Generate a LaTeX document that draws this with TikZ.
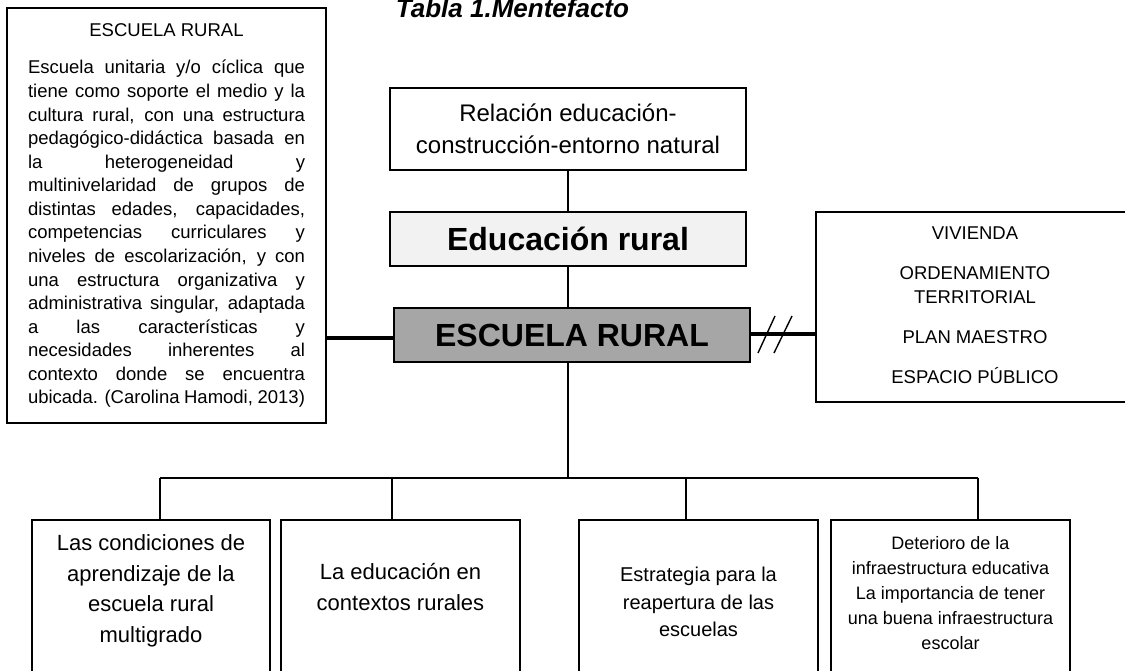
\documentclass[tikz,border=0pt]{standalone}
\usepackage{fontspec}
\setmainfont{Liberation Sans}
\definecolor{edufill}{HTML}{F2F2F2}
\definecolor{escfill}{HTML}{A6A6A6}
\newcommand{\jline}[1]{\makebox[277pt][s]{#1}}
\begin{document}
\begin{tikzpicture}[x=1pt,y=-1pt,
  box/.style={draw, line width=1.5pt, inner sep=0pt},
  conn/.style={line width=1.4pt},
  thickconn/.style={line width=4pt},
  txt/.style={inner sep=0pt, align=center}]
\useasboundingbox (0,0) rectangle (1125,670);
\clip (0,0) rectangle (1125,670);

% title
\node[anchor=base, inner sep=0pt, font=\fontsize{26}{30}\selectfont\bfseries\itshape] (title) at (512.5,17) {Tabla 1.Mentefacto};

% left definition box
\node[box, minimum width=319pt, minimum height=415pt] (lbox) at (166.5,215.5) {};
\node[txt, font=\fontsize{18.5}{22}\selectfont] (lhead) at (166.5,30) {ESCUELA RURAL};
\node[inner sep=0pt, align=left, font=\fontsize{18.5}{23.57}\selectfont] (lbody) at (166.5,234) {%
\jline{Escuela unitaria y/o cíclica que}\\
\jline{tiene como soporte el medio y la}\\
\jline{cultura rural, con una estructura}\\
\jline{pedagógico-didáctica basada en}\\
\jline{la heterogeneidad y}\\
\jline{multinivelaridad de grupos de}\\
\jline{distintas edades, capacidades,}\\
\jline{competencias curriculares y}\\
\jline{niveles de escolarización, y con}\\
\jline{una estructura organizativa y}\\
\jline{administrativa singular, adaptada}\\
\jline{a las características y}\\
\jline{necesidades inherentes al}\\
\jline{contexto donde se encuentra}\\
\jline{ubicada. (Carolina Hamodi, 2013)}};

% central column
\node[box, minimum width=356pt, minimum height=82pt, align=center, font=\fontsize{24}{32}\selectfont] (rel) at (568,129)
  {Relación educación-\\construcción-entorno natural};
\node[box, fill=edufill, minimum width=356pt, minimum height=54pt, font=\fontsize{32}{36}\selectfont\bfseries] (edu) at (568,239)
  {Educación rural};
\node[box, fill=escfill, minimum width=356pt, minimum height=54pt, font=\fontsize{32}{36}\selectfont\bfseries] (esc) at (572,335)
  {ESCUELA RURAL};

% right box
\node[box, minimum width=324pt, minimum height=190pt] (rbox) at (978,307) {};
\node[txt, font=\fontsize{18.5}{24}\selectfont] (r1) at (975,233) {VIVIENDA};
\node[txt, font=\fontsize{18.5}{24}\selectfont] (r2) at (975,285) {ORDENAMIENTO\\TERRITORIAL};
\node[txt, font=\fontsize{18.5}{24}\selectfont] (r3) at (975,337) {PLAN MAESTRO};
\node[txt, font=\fontsize{18.5}{24}\selectfont] (r4) at (975,376) {ESPACIO PÚBLICO};

% bottom boxes
\node[box, minimum width=238pt, minimum height=180pt] (b1) at (151,610) {};
\node[box, minimum width=239pt, minimum height=180pt] (b2) at (400.5,610) {};
\node[box, minimum width=239pt, minimum height=180pt] (b3) at (698.5,610) {};
\node[box, minimum width=239pt, minimum height=180pt] (b4) at (950.5,610) {};
\node[txt, font=\fontsize{22}{30.5}\selectfont] (t1) at (151,591) {Las condiciones de\\aprendizaje de la\\escuela rural\\multigrado};
\node[txt, font=\fontsize{22}{30.5}\selectfont] (t2) at (400.5,587) {La educación en\\contextos rurales};
\node[txt, font=\fontsize{20}{27.5}\selectfont] (t3) at (698.5,602) {Estrategia para la\\reapertura de las\\escuelas};
\node[txt, font=\fontsize{18}{25}\selectfont] (t4) at (950.5,593) {Deterioro de la\\infraestructura educativa\\La importancia de tener\\una buena infraestructura\\escolar};

% connectors
\draw[conn] (rel.south) -- (edu.north);
\draw[conn] (edu.south) -- (edu.south |- esc.north);
\coordinate (bus) at (568,478);
\coordinate (j1) at (160,478);
\coordinate (j2) at (392,478);
\coordinate (j3) at (686,478);
\coordinate (j4) at (978,478);
\draw[conn] (edu.south |- esc.south) -- (bus);
\draw[conn] (j1) -- (j4);
\draw[conn] (j1) -- (j1 |- b1.north);
\draw[conn] (j2) -- (j2 |- b2.north);
\draw[conn] (j3) -- (j3 |- b3.north);
\draw[conn] (j4) -- (j4 |- b4.north);
\draw[thickconn] (lbox.east |- 0,338) -- (esc.west |- 0,338);
\draw[thickconn] (esc.east |- 0,334) -- (rbox.west |- 0,334);
\draw[conn] (758,353) -- (775,316);
\draw[conn] (774,353) -- (792,316);
\end{tikzpicture}
\end{document}
